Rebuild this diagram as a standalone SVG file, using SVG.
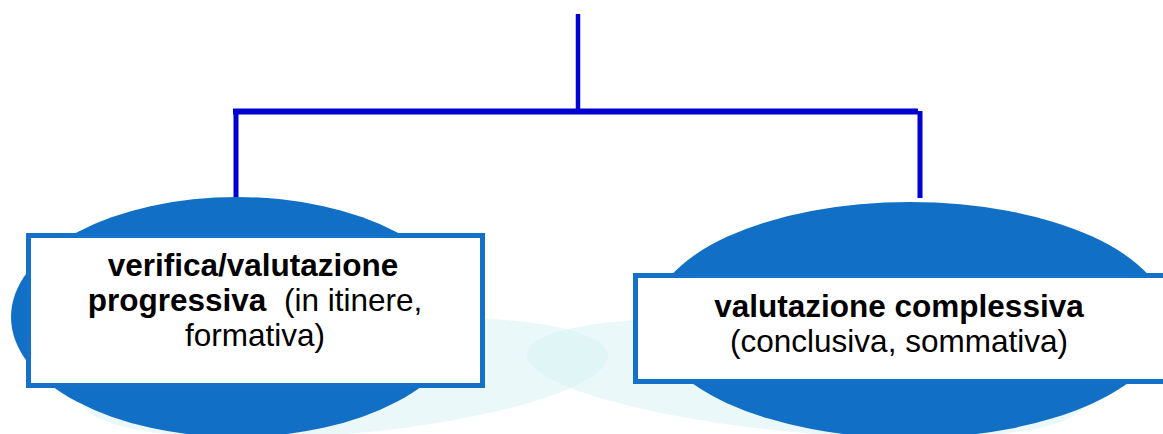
<svg xmlns="http://www.w3.org/2000/svg" width="1163" height="434" viewBox="0 0 1163 434">
<style>
.halo{fill:#d5f1f3;fill-opacity:0.5}
.blob{fill:#1170c6}
.box{fill:#ffffff;stroke:#1570c8;stroke-width:5}
.conn{stroke:#0000d0;fill:none;stroke-linecap:butt}
text{font-family:"Liberation Sans",Arial,sans-serif;font-size:31.5px;fill:#000;text-anchor:middle}
.b{font-weight:bold}
</style>
<rect width="1163" height="434" fill="#ffffff"/>
<g id="background">
<ellipse class="halo" cx="345" cy="378" rx="264" ry="56" transform="rotate(-5 345 378)"/>
<ellipse class="halo" cx="806" cy="378" rx="280" ry="55" transform="rotate(5 806 378)"/>
</g>
<g id="connectors">
<line class="conn" x1="578" y1="14" x2="578" y2="112" stroke-width="4.5"/>
<line class="conn" x1="233" y1="111.5" x2="918" y2="111.5" stroke-width="6"/>
<line class="conn" x1="236" y1="111" x2="236" y2="198" stroke-width="5"/>
<line class="conn" x1="920" y1="111" x2="920" y2="198" stroke-width="5"/>
</g>
<g id="node-progressiva">
<ellipse class="blob" cx="237" cy="317" rx="226" ry="120"/>
<rect class="box" x="28.5" y="235.5" width="454" height="150"/>
<text xml:space="preserve"><tspan class="b" x="253" y="276">verifica/valutazione</tspan><tspan x="255" y="311"><tspan class="b">progressiva</tspan>  (in itinere,</tspan><tspan x="255" y="346">formativa)</tspan></text>
</g>
<g id="node-complessiva">
<ellipse class="blob" cx="910" cy="320" rx="258" ry="118"/>
<rect class="box" x="635.5" y="275.5" width="540" height="106"/>
<text><tspan class="b" x="899" y="317">valutazione complessiva</tspan><tspan x="899" y="352">(conclusiva, sommativa)</tspan></text>
</g>
</svg>
